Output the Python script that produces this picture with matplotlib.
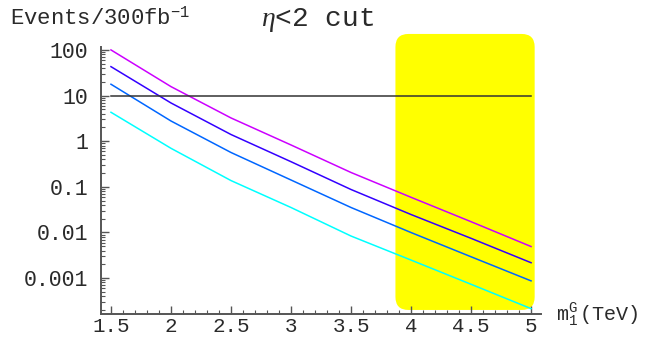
import numpy as np
import matplotlib.pyplot as plt
from matplotlib.patches import FancyBboxPatch
from matplotlib.transforms import IdentityTransform
from matplotlib.ticker import FixedLocator, FixedFormatter, NullFormatter

plt.rcParams['mathtext.fontset'] = 'custom'
plt.rcParams['mathtext.rm'] = 'Liberation Mono'
plt.rcParams['mathtext.it'] = 'Liberation Serif:italic'
plt.rcParams['mathtext.bf'] = 'Liberation Mono:bold'

# graviton mass m1^G (TeV) and event counts per 300 fb^-1
mass = [1.5, 2.0, 2.5, 3.0, 3.5, 4.0, 4.5, 5.0]
ev_magenta = [100, 15.7, 3.23, 0.826, 0.206, 0.0589, 0.0172, 0.00491]
ev_violet = [43.0, 6.88, 1.40, 0.355, 0.0873, 0.0247, 0.00743, 0.00217]
ev_blue = [17.7, 2.77, 0.565, 0.141, 0.0352, 0.00995, 0.00293, 0.000868]
ev_cyan = [4.30, 0.698, 0.137, 0.0352, 0.00834, 0.00248, 0.000731, 0.000214]
discovery_level = 10

# shaded band
band_x = (3.87, 5.03)
band_y = (2.0e-4, 224)

xticks = [1.5, 2, 2.5, 3, 3.5, 4, 4.5, 5]
xtick_labels = ["1.5", "2", "2.5", "3", "3.5", "4", "4.5", "5"]
yticks = [1e-3, 1e-2, 1e-1, 1, 10, 100]
ytick_labels = ["0.001", "0.01", "0.1", "1", "10", "100"]

mono = 'Liberation Mono'
axcol = '#555555'
txtcol = '#2a2a2a'

fig = plt.figure(figsize=(6.45, 3.39), dpi=100)
ax = fig.add_axes([0.1566, 0.0737, 0.6822, 0.7877])
ax.set_yscale('log')
ax.set_xlim(1.417, 5.083)
ax.set_ylim(1.63e-4, 116)

for s in ['top', 'right']:
    ax.spines[s].set_visible(False)
for s in ['left', 'bottom']:
    ax.spines[s].set_color(axcol)
    ax.spines[s].set_linewidth(1.4)

# yellow rounded band, placed in display coordinates so the corners stay round
(x0, y0), (x1, y1) = ax.transData.transform([(band_x[0], band_y[0]), (band_x[1], band_y[1])])
band = FancyBboxPatch((x0, y0), x1 - x0, y1 - y0,
                      boxstyle="round,pad=0,rounding_size=13",
                      transform=IdentityTransform(), facecolor='#ffff00',
                      edgecolor='none', zorder=0.5, clip_on=False)
ax.add_artist(band)

ax.plot(mass, ev_magenta, color='#cc00ff', lw=1.1, zorder=3)
ax.plot(mass, ev_violet, color='#3300ff', lw=1.1, zorder=3)
ax.plot(mass, ev_blue, color='#0066ff', lw=1.1, zorder=3)
ax.plot(mass, ev_cyan, color='#00ffff', lw=1.1, zorder=3)
ax.plot([mass[0], mass[-1]], [discovery_level, discovery_level], color='#333333', lw=1.1, zorder=3)

ax.xaxis.set_major_locator(FixedLocator(xticks))
ax.xaxis.set_major_formatter(FixedFormatter(xtick_labels))
ax.xaxis.set_minor_locator(FixedLocator(np.arange(1.5, 5.05, 0.1)))
ax.yaxis.set_major_locator(FixedLocator(yticks))
ax.yaxis.set_major_formatter(FixedFormatter(ytick_labels))
ax.yaxis.set_minor_locator(FixedLocator([m * 10.0 ** e for e in range(-4, 3) for m in range(2, 10)]))
ax.yaxis.set_minor_formatter(NullFormatter())

ax.tick_params(which='major', direction='in', length=6, width=1, color=axcol,
               labelsize=15, labelcolor=txtcol)
ax.tick_params(which='minor', direction='in', length=3, width=0.8, color=axcol)
ax.tick_params(axis='y', which='major', pad=9, labelsize=15.5)
ax.tick_params(axis='x', which='major', pad=2)
for lab in ax.get_xticklabels() + ax.get_yticklabels():
    lab.set_family(mono)

fig.text(0.016, 0.945, r"Events/300fb$^{-1}$", family=mono, fontsize=16,
         color=txtcol, va='center', ha='left')
fig.text(0.405, 0.94, r"$\eta$<2 cut", family=mono, fontsize=20,
         color=txtcol, va='center', ha='left')
fig.text(0.862, 0.072, r"m$_\mathrm{1}^\mathrm{G}\,$(TeV)", family=mono, fontsize=14.5,
         color=txtcol, va='center', ha='left')

fig.savefig('out.png', dpi=100)
